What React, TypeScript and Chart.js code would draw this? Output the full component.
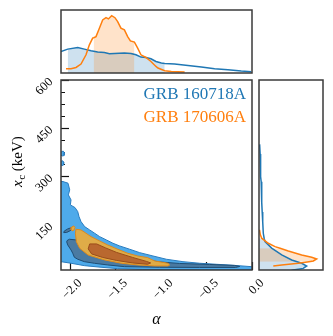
import React, { useEffect, useRef } from 'react';
import { Chart, registerables } from 'chart.js';

Chart.register(...registerables);

// ---------------- data ----------------
const legendLabels = ['GRB 160718A', 'GRB 170606A'];
const alphaTicks = [-2.0, -1.5, -1.0, -0.5, 0.0];
const alphaTickLabels = ['\u22122.0', '\u22121.5', '\u22121.0', '\u22120.5', '0.0'];
const xcMajorTicks = [150, 300, 450, 600];
const xcTickLabels = ['150', '300', '450', '600'];
const xcMinorTicks = [37.5, 75, 112.5, 187.5, 225, 262.5, 337.5, 375, 412.5, 487.5, 525, 562.5];
const xTitle = '\u03b1';
const yTitleParts = ['x', 'c', ' (keV)'];

// top marginal (alpha posterior)
const topAlphaA = [-2.100, -2.026, -1.916, -1.843, -1.770, -1.697, -1.623, -1.568, -1.513, -1.403, -1.331, -1.276, -1.221, -1.166, -1.111, -1.056, -0.997, -0.960, -0.851, -0.704, -0.557, -0.411, -0.265, -0.118, -0.008];
const topDensA = [0.341, 0.379, 0.404, 0.379, 0.352, 0.332, 0.325, 0.305, 0.310, 0.316, 0.310, 0.289, 0.253, 0.246, 0.226, 0.183, 0.158, 0.152, 0.142, 0.120, 0.095, 0.068, 0.052, 0.032, 0.021];
const topShadeA = [-2.026, -0.960];
const topAlphaB = [-2.045, -1.990, -1.935, -1.880, -1.825, -1.788, -1.752, -1.741, -1.715, -1.678, -1.642, -1.605, -1.579, -1.543, -1.507, -1.477, -1.441, -1.403, -1.367, -1.337, -1.293, -1.257, -1.221, -1.166, -1.111, -1.056, -1.034, -0.960, -0.887, -0.741];
const topDensB = [0.068, 0.068, 0.088, 0.142, 0.289, 0.447, 0.553, 0.560, 0.578, 0.711, 0.842, 0.878, 0.858, 0.910, 0.878, 0.815, 0.711, 0.684, 0.578, 0.510, 0.490, 0.395, 0.289, 0.246, 0.183, 0.104, 0.079, 0.036, 0.025, 0.016];
const topShadeB = [-1.741, -1.293];

// right marginal (x_c posterior)
const rightXcA = [400, 370, 340, 300, 284, 250, 220, 190, 160, 124, 108.7, 98, 78, 57, 41, 31, 22.5, 15, 10, 5];
const rightDensA = [0.010, 0.018, 0.022, 0.028, 0.034, 0.040, 0.045, 0.050, 0.058, 0.067, 0.080, 0.094, 0.198, 0.355, 0.511, 0.667, 0.745, 0.692, 0.536, 0.450];
const rightShadeA = [5, 108.7];
const rightXcB = [135, 120, 108.7, 93, 82.5, 77.6, 69, 56.7, 49.6, 44.3, 38.1, 35.9, 30.9, 25.6, 22.5];
const rightDensB = [0.008, 0.020, 0.042, 0.145, 0.250, 0.330, 0.458, 0.667, 0.823, 0.901, 0.849, 0.780, 0.615, 0.355, 0.223];
const rightShadeB = [35.9, 77.6];

// joint contours (alpha, x_c)
const blueOuterAlpha = [-2.15, -2.078, -2.023, -2.004, -2.019, -1.990, -1.997, -1.946, -1.916, -1.902, -1.880, -1.840, -1.785, -1.730, -1.675, -1.601, -1.529, -1.455, -1.345, -1.235, -1.089, -0.942, -0.759, -0.576, -0.392, -0.210, 0.010, 0.05, 0.05, -0.5, -1.2, -1.476, -1.660, -1.843, -1.990, -2.081, -2.15];
const blueOuterXc = [285, 284.6, 279.6, 258.8, 243.3, 227.7, 212.2, 203.8, 191.3, 175.8, 160.3, 144.7, 134.5, 124.2, 113.6, 103.4, 93.1, 84.7, 74.5, 63.9, 53.6, 43.4, 35.9, 31.0, 27.8, 24.7, 20.0, 19.5, 11, 11, 11.5, 14.2, 18.5, 23.5, 31.0, 35.0, 35];
const blueIslandAAlpha = [-2.12, -2.09, -2.075, -2.062, -2.065, -2.08, -2.10];
const blueIslandAXc = [372, 378, 379, 374, 366, 364, 366];
const blueIslandBAlpha = [-2.12, -2.095, -2.08, -2.068, -2.072, -2.088, -2.10];
const blueIslandBXc = [342, 348, 349, 344, 336, 334, 337];
const blueInnerAlpha = [-2.034, -2.008, -1.935, -1.862, -1.840, -1.675, -1.455, -1.235, -1.015, -0.796, -0.466, -0.191, -0.135, -0.180, -0.576, -1.015, -1.403, -1.587, -1.733, -1.843, -1.916, -1.953, -1.971, -1.990, -2.026, -2.037];
const blueInnerXc = [101.2, 105.5, 103.4, 98.1, 87.8, 72.3, 56.7, 44.3, 35.0, 30.3, 27.2, 24.1, 21.0, 17.9, 17.9, 18.5, 20.4, 25.7, 30.9, 35.9, 43.4, 49.6, 62.0, 72.3, 87.8, 97.2];
const blueInnerIslandAlpha = [-2.070, -2.037, -1.993, -1.960, -1.977, -2.026, -2.065];
const blueInnerIslandXc = [126.1, 126.7, 132.9, 142.9, 142.2, 137.6, 130.7];
const orangeOuterAlpha = [-1.935, -1.880, -1.825, -1.770, -1.697, -1.587, -1.477, -1.367, -1.257, -1.147, -1.070, -0.924, -0.905, -0.924, -1.070, -1.254, -1.436, -1.620, -1.803, -1.895, -1.931, -1.942];
const orangeOuterXc = [136.6, 134.5, 124.2, 113.6, 103.4, 87.8, 74.5, 62.0, 53.6, 48.4, 38.1, 30.9, 25.7, 22.6, 22.6, 25.7, 30.9, 41.2, 56.7, 77.6, 98.1, 124.2];
const orangeBlobAlpha = [-1.988, -1.977, -1.955, -1.946, -1.960, -1.980];
const orangeBlobXc = [136.0, 131.3, 134.5, 142.2, 146.9, 143.8];
const orangeInnerAlpha = [-1.785, -1.708, -1.609, -1.488, -1.312, -1.158, -1.114, -1.147, -1.312, -1.488, -1.642, -1.763, -1.801];
const orangeInnerXc = [90.9, 90.9, 78.5, 64.5, 49.0, 36.5, 31.9, 27.8, 31.9, 39.6, 49.0, 59.9, 75.4];

// ---------------- styling ----------------
const FONT = '"Liberation Serif", "DejaVu Serif", serif';
const BLUE = '#1f77b4';
const ORANGE = '#ff7f0e';
const ALPHA_MIN = -2.1;
const ALPHA_MAX = 0.0;
const XC_MIN = 10;
const XC_MAX = 600;

type P = { x: number; y: number };
const zip = (xs: number[], ys: number[], close = false): P[] => {
  const p = xs.map((x, i) => ({ x, y: ys[i] }));
  if (close) p.push({ ...p[0] });
  return p;
};
const between = (pts: P[], key: 'x' | 'y', range: number[]) =>
  pts.filter((p) => p[key] >= range[0] - 1e-9 && p[key] <= range[1] + 1e-9);

const framePlugin = {
  id: 'frame',
  afterDatasetsDraw(chart: any) {
    const { ctx, chartArea: a } = chart;
    ctx.save();
    ctx.strokeStyle = '#3a3a3a';
    ctx.lineWidth = 1.5;
    ctx.strokeRect(a.left, a.top, a.right - a.left, a.bottom - a.top);
    ctx.restore();
  },
};

const textPlugin = {
  id: 'texts',
  afterDraw(chart: any) {
    const { ctx, chartArea: a } = chart;
    ctx.save();
    // legend
    ctx.font = `17px ${FONT}`;
    ctx.textAlign = 'right';
    ctx.textBaseline = 'alphabetic';
    ctx.fillStyle = BLUE;
    ctx.fillText(legendLabels[0], a.right - 6, a.top + 18.5);
    ctx.fillStyle = ORANGE;
    ctx.fillText(legendLabels[1], a.right - 6, a.top + 41.5);
    // y title
    ctx.fillStyle = '#000';
    ctx.translate(22, 187);
    ctx.rotate(-Math.PI / 2);
    ctx.textAlign = 'left';
    ctx.font = `italic 15px ${FONT}`;
    ctx.fillText(yTitleParts[0], 0, 0);
    let w = ctx.measureText(yTitleParts[0]).width;
    ctx.font = `11px ${FONT}`;
    ctx.fillText(yTitleParts[1], w + 0.5, 3);
    w += 0.5 + ctx.measureText(yTitleParts[1]).width;
    ctx.font = `15px ${FONT}`;
    ctx.fillText(yTitleParts[2], w, 0);
    ctx.restore();
  },
};

const base = {
  responsive: false,
  animation: false as const,
  events: [] as any[],
};

const contour = (data: P[], bg: string, border: string) => ({
  data,
  fill: 'shape',
  backgroundColor: bg,
  borderColor: border,
  borderWidth: 1,
  pointRadius: 0,
  tension: 0,
  clip: 0,
});

function mainConfig(): any {
  const blueLight = '#4eaaea';
  const blueLightEdge = '#2a7cbf';
  const blueDark = '#4a7aa2';
  const blueDarkEdge = '#1f4d74';
  const orLight = '#dfac48';
  const orLightEdge = '#e08a1c';
  const orDark = '#b9682f';
  const orDarkEdge = '#9a4c1a';
  return {
    type: 'line',
    data: {
      datasets: [
        contour(zip(orangeInnerAlpha, orangeInnerXc, true), orDark, orDarkEdge),
        contour(zip(orangeOuterAlpha, orangeOuterXc, true), orLight, orLightEdge),
        contour(zip(orangeBlobAlpha, orangeBlobXc, true), orLight, orLightEdge),
        contour(zip(blueInnerIslandAlpha, blueInnerIslandXc, true), blueDark, blueDarkEdge),
        contour(zip(blueInnerAlpha, blueInnerXc, true), blueDark, blueDarkEdge),
        contour(zip(blueIslandAAlpha, blueIslandAXc, true), blueLight, blueLightEdge),
        contour(zip(blueIslandBAlpha, blueIslandBXc, true), blueLight, blueLightEdge),
        contour(zip(blueOuterAlpha, blueOuterXc, true), blueLight, blueLightEdge),
      ],
    },
    options: {
      ...base,
      layout: { padding: { left: 0, right: 81, top: 80, bottom: 0 } },
      plugins: { legend: { display: false }, tooltip: { enabled: false } },
      scales: {
        x: {
          type: 'linear',
          position: 'bottom',
          min: ALPHA_MIN,
          max: ALPHA_MAX,
          z: 1,
          afterBuildTicks: (s: any) => {
            s.ticks = alphaTicks.map((v) => ({ value: v }));
          },
          afterFit: (s: any) => {
            s.height = 66;
          },
          ticks: {
            autoSkip: false,
            minRotation: 45,
            maxRotation: 45,
            labelOffset: 10,
            padding: 14,
            color: '#000',
            font: { family: FONT, size: 12.5 },
            callback: (_v: any, i: number) => alphaTickLabels[i],
          },
          grid: { drawOnChartArea: false, drawTicks: true, tickLength: -8, tickColor: '#111', tickWidth: 1.2 },
          border: { display: false },
          title: {
            display: true,
            text: xTitle,
            color: '#000',
            font: { family: FONT, size: 16, style: 'italic' },
            padding: { top: 0, bottom: 7 },
          },
        },
        y: {
          type: 'linear',
          position: 'left',
          weight: 1,
          min: XC_MIN,
          max: XC_MAX,
          z: 1,
          afterBuildTicks: (s: any) => {
            s.ticks = xcMajorTicks.map((v) => ({ value: v }));
          },
          afterFit: (s: any) => {
            s.width = 61;
          },
          ticks: {
            autoSkip: false,
            minRotation: 45,
            maxRotation: 45,
            padding: 18,
            color: '#000',
            font: { family: FONT, size: 12.5 },
            callback: (_v: any, i: number) => xcTickLabels[i],
          },
          grid: { drawOnChartArea: false, drawTicks: true, tickLength: -8, tickColor: '#111', tickWidth: 1.2 },
          border: { display: false },
        },
        yMinor: {
          type: 'linear',
          position: 'left',
          weight: 0,
          min: XC_MIN,
          max: XC_MAX,
          z: 1,
          afterBuildTicks: (s: any) => {
            s.ticks = xcMinorTicks.map((v) => ({ value: v }));
          },
          afterFit: (s: any) => {
            s.width = 0;
          },
          ticks: { display: false },
          grid: { drawOnChartArea: false, drawTicks: true, tickLength: -4, tickColor: '#111', tickWidth: 1 },
          border: { display: false },
        },
      },
    },
    plugins: [framePlugin, textPlugin],
  };
}

function topConfig(): any {
  const a = zip(topAlphaA, topDensA);
  const b = zip(topAlphaB, topDensB);
  return {
    type: 'line',
    data: {
      datasets: [
        { data: b, borderColor: ORANGE, borderWidth: 1.5, pointRadius: 0, fill: false, clip: 0 },
        { data: a, borderColor: BLUE, borderWidth: 1.5, pointRadius: 0, fill: false, clip: 0 },
        { data: between(b, 'x', topShadeB), borderWidth: 0, pointRadius: 0, fill: 'origin', backgroundColor: 'rgba(255,127,14,0.22)', clip: 0 },
        { data: between(a, 'x', topShadeA), borderWidth: 0, pointRadius: 0, fill: 'origin', backgroundColor: 'rgba(31,119,180,0.22)', clip: 0 },
      ],
    },
    options: {
      ...base,
      layout: { padding: { left: 61, right: 81, top: 10, bottom: 263 } },
      plugins: { legend: { display: false }, tooltip: { enabled: false } },
      scales: {
        x: { type: 'linear', min: ALPHA_MIN, max: ALPHA_MAX, display: false },
        y: { type: 'linear', min: 0, max: 1, display: false },
      },
    },
    plugins: [framePlugin],
  };
}

function rightConfig(): any {
  const a = zip(rightDensA, rightXcA);
  const b = zip(rightDensB, rightXcB);
  return {
    type: 'line',
    data: {
      datasets: [
        { data: b, borderColor: ORANGE, borderWidth: 1.5, pointRadius: 0, fill: false, clip: 0 },
        { data: a, borderColor: BLUE, borderWidth: 1.5, pointRadius: 0, fill: false, clip: 0 },
        { data: between(b, 'y', rightShadeB), borderWidth: 0, pointRadius: 0, fill: 'origin', backgroundColor: 'rgba(255,127,14,0.22)', clip: 0 },
        { data: between(a, 'y', rightShadeA), borderWidth: 0, pointRadius: 0, fill: 'origin', backgroundColor: 'rgba(31,119,180,0.22)', clip: 0 },
      ],
    },
    options: {
      ...base,
      indexAxis: 'y',
      layout: { padding: { left: 259, right: 10, top: 80, bottom: 66 } },
      plugins: { legend: { display: false }, tooltip: { enabled: false } },
      scales: {
        x: { type: 'linear', min: 0, max: 1, display: false },
        y: { type: 'linear', min: XC_MIN, max: XC_MAX, display: false },
      },
    },
    plugins: [framePlugin],
  };
}

const canvasStyle: React.CSSProperties = { position: 'absolute', left: 0, top: 0, width: 333, height: 336 };

export default function App() {
  const mainRef = useRef<HTMLCanvasElement>(null);
  const topRef = useRef<HTMLCanvasElement>(null);
  const rightRef = useRef<HTMLCanvasElement>(null);

  useEffect(() => {
    const charts: Chart[] = [];
    if (mainRef.current) charts.push(new Chart(mainRef.current, mainConfig()));
    if (topRef.current) charts.push(new Chart(topRef.current, topConfig()));
    if (rightRef.current) charts.push(new Chart(rightRef.current, rightConfig()));
    return () => charts.forEach((c) => c.destroy());
  }, []);

  return (
    <div style={{ position: 'fixed', left: 0, top: 0, width: 333, height: 336, background: '#fff' }}>
      <canvas ref={mainRef} width={333} height={336} style={canvasStyle} />
      <canvas ref={topRef} width={333} height={336} style={canvasStyle} />
      <canvas ref={rightRef} width={333} height={336} style={canvasStyle} />
    </div>
  );
}
